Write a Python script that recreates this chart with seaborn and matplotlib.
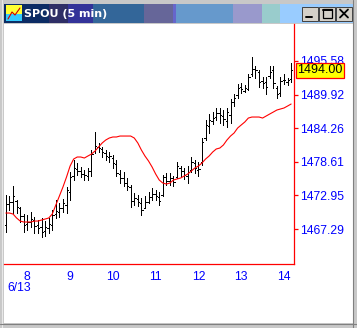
import matplotlib
matplotlib.use("Agg")
import matplotlib.pyplot as plt
import matplotlib.transforms as mtransforms
from matplotlib.patches import Rectangle
import numpy as np
import pandas as pd
import seaborn as sns

# ---------------- data ----------------
title = "SPOU (5 min)"
date_label = "6/13"
hour_ticks = [8, 9, 10, 11, 12, 13, 14]
price_ticks = [1467.29, 1472.95, 1478.61, 1484.26, 1489.92, 1495.58]
last_price = 1494.00

# bar start times (minutes after midnight): 7:30 .. 14:10, 5-minute bars
bar_minutes = list(range(450, 855, 5))

opens = [1468.0, 1471.5, 1471.9, 1472.0, 1470.8, 1469.5, 1468.2, 1468.4, 1468.8, 1467.9,
         1467.6, 1466.9, 1467.5, 1468.0, 1469.8, 1470.2, 1470.8, 1471.4, 1473.6, 1476.2,
         1477.4, 1477.1, 1476.6, 1476.2, 1477.0, 1480.5, 1481.1, 1480.8, 1480.1, 1479.4,
         1479.3, 1478.2, 1476.6, 1475.8, 1475.0, 1474.3, 1472.0, 1472.3, 1471.6, 1470.8,
         1471.9, 1472.7, 1473.2, 1472.6, 1473.0, 1476.1, 1475.3, 1475.8, 1476.0, 1477.6,
         1477.0, 1476.2, 1477.2, 1478.4, 1477.3, 1478.5, 1482.6, 1484.6, 1485.5, 1486.2,
         1486.9, 1486.3, 1485.5, 1486.5, 1488.7, 1489.8, 1491.2, 1490.6, 1490.9, 1493.4,
         1494.2, 1493.8, 1492.2, 1492.0, 1493.0, 1494.0, 1491.0, 1490.2, 1492.4, 1492.0,
         1492.6]
highs = [1473.01, 1472.90, 1474.53, 1472.17, 1470.99, 1469.81, 1469.64, 1470.15, 1469.31, 1468.80,
         1469.14, 1468.63, 1469.14, 1470.49, 1472.17, 1471.66, 1472.34, 1474.36, 1476.88, 1478.90,
         1478.40, 1477.73, 1477.22, 1477.56, 1480.59, 1483.62, 1481.77, 1481.09, 1480.59, 1480.25,
         1479.75, 1478.90, 1477.22, 1476.88, 1475.87, 1474.70, 1473.35, 1473.01, 1472.51, 1472.84,
         1473.52, 1474.19, 1473.85, 1473.52, 1476.38, 1476.72, 1476.72, 1476.21, 1478.57, 1477.89,
         1477.56, 1477.89, 1479.41, 1478.90, 1478.57, 1482.61, 1485.64, 1486.65, 1486.98, 1487.66,
         1487.66, 1487.32, 1487.66, 1489.17, 1490.02, 1491.70, 1491.87, 1491.53, 1493.38, 1496.24,
         1494.73, 1494.06, 1492.88, 1492.88, 1494.73, 1494.73, 1491.36, 1492.88, 1493.38, 1492.71,
         1495.23]
lows = [1466.78, 1470.49, 1469.98, 1469.98, 1468.47, 1466.78, 1467.12, 1467.62, 1466.61, 1466.61,
        1465.94, 1466.11, 1466.61, 1467.12, 1469.14, 1469.31, 1470.15, 1469.98, 1472.17, 1475.54,
        1476.38, 1476.04, 1475.54, 1475.54, 1476.21, 1480.08, 1480.25, 1479.41, 1478.90, 1478.57,
        1477.56, 1476.21, 1475.03, 1474.53, 1473.85, 1470.99, 1471.33, 1471.16, 1469.64, 1470.99,
        1471.66, 1472.17, 1472.17, 1471.33, 1472.84, 1474.70, 1474.70, 1474.53, 1475.87, 1476.21,
        1475.71, 1475.03, 1476.88, 1476.72, 1476.21, 1478.06, 1482.27, 1483.45, 1484.96, 1485.64,
        1485.13, 1484.80, 1484.46, 1485.13, 1487.99, 1489.34, 1490.18, 1490.35, 1490.69, 1493.05,
        1492.71, 1491.19, 1491.03, 1490.02, 1492.71, 1491.03, 1489.34, 1489.68, 1491.70, 1491.53,
        1492.04]
closes = [1471.5, 1471.9, 1472.8, 1471.0, 1469.5, 1468.0, 1468.5, 1468.9, 1467.8, 1467.5,
          1466.8, 1467.6, 1468.2, 1469.6, 1470.4, 1470.9, 1471.6, 1473.8, 1476.0, 1477.5,
          1477.0, 1476.6, 1476.3, 1477.0, 1480.0, 1481.2, 1481.0, 1480.2, 1479.6, 1479.5,
          1478.4, 1476.8, 1475.9, 1475.0, 1474.5, 1472.0, 1472.5, 1471.8, 1470.5, 1471.8,
          1472.6, 1473.2, 1472.8, 1472.0, 1476.0, 1475.4, 1475.9, 1475.2, 1477.9, 1477.0,
          1476.4, 1476.9, 1478.5, 1477.5, 1477.4, 1482.0, 1484.8, 1485.6, 1486.0, 1486.9,
          1486.5, 1485.8, 1487.0, 1488.6, 1489.4, 1491.0, 1490.8, 1491.0, 1492.9, 1494.2,
          1494.0, 1492.0, 1491.9, 1491.2, 1493.8, 1491.8, 1490.0, 1492.2, 1492.3, 1492.4,
          1494.0]
moving_avg = [1469.98, 1469.98, 1469.81, 1469.14, 1468.63, 1468.47, 1468.47, 1468.47, 1468.63, 1468.63,
              1468.80, 1468.97, 1469.14, 1469.81, 1471.33, 1472.84, 1474.36, 1476.04, 1477.89, 1479.07,
              1479.41, 1479.41, 1479.24, 1479.58, 1479.91, 1480.42, 1481.09, 1481.77, 1482.27, 1482.61,
              1482.78, 1482.78, 1482.94, 1482.94, 1482.94, 1482.94, 1482.61, 1481.77, 1480.59, 1479.58,
              1478.74, 1477.73, 1476.55, 1475.54, 1475.03, 1474.86, 1475.03, 1475.54, 1475.71, 1475.87,
              1476.21, 1476.55, 1477.05, 1477.56, 1477.89, 1478.40, 1479.07, 1479.58, 1480.25, 1480.76,
              1480.92, 1481.43, 1482.27, 1482.94, 1483.45, 1484.29, 1484.80, 1485.30, 1485.97, 1486.14,
              1486.14, 1486.14, 1485.97, 1486.31, 1486.65, 1486.98, 1487.32, 1487.49, 1487.66, 1487.99,
              1488.33]

# ---------------- figure ----------------
sns.set_style("white")
plt.rcParams["font.family"] = ["Liberation Sans", "DejaVu Sans"]

W, H = 357, 328
fig = plt.figure(figsize=(W / 100, H / 100), dpi=100)
fig.patch.set_facecolor("#c8c8c8")

# window chrome (pixel coordinates)
chrome = fig.add_axes([0, 0, 1, 1])
chrome.set_xlim(0, W)
chrome.set_ylim(H, 0)
chrome.axis("off")

# white client area
chrome.add_patch(Rectangle((4, 24), 349, 299, facecolor="white", edgecolor="none"))
# borders
chrome.plot([1.5, 1.5], [0, H], color="#e8e8e8", lw=0.8)
chrome.plot([0, W], [H - 4.5, H - 4.5], color="#808080", lw=0.8)
chrome.plot([W - 4.5, W - 4.5], [0, H], color="#808080", lw=0.8)

# title bar gradient blocks
segments = [(4, 49, "#0c2c64"), (49, 68, "#2e2e66"), (68, 93, "#333399"),
            (93, 144, "#336699"), (144, 173, "#666699"), (173, 176, "#6666cc"),
            (176, 233, "#6699cc"), (233, 262, "#9999cc"), (262, 280, "#99cccc"),
            (280, 353, "#99ccff")]
for x0, x1, c in segments:
    chrome.add_patch(Rectangle((x0, 4), x1 - x0, 19, facecolor=c, edgecolor="none"))
# icon
chrome.add_patch(Rectangle((6, 5), 16, 16, facecolor="#ffff33", edgecolor="none"))
chrome.add_patch(Rectangle((6, 14), 16, 7, facecolor="#33ccff", edgecolor="none"))
chrome.plot([8, 12, 15, 20], [19, 12, 15, 8], color="#cc0000", lw=0.8)
chrome.text(24, 13.8, title, color="white", fontsize=8, fontweight="bold",
            va="center", ha="left", family=["DejaVu Sans"])
# buttons
for bx in (302, 319, 336):
    chrome.add_patch(Rectangle((bx, 6.5), 16, 14, facecolor="#d4d0c8",
                               edgecolor="#404040", lw=0.7))
chrome.plot([306, 312], [17, 17], color="black", lw=1.4)
chrome.add_patch(Rectangle((322.5, 9), 9, 9, facecolor="none", edgecolor="black", lw=0.9))
chrome.plot([322.5, 331.5], [9.8, 9.8], color="black", lw=1.4)
chrome.plot([340, 348], [9.5, 17.5], color="black", lw=1.3)
chrome.plot([340, 348], [17.5, 9.5], color="black", lw=1.3)

# ---------------- price axes ----------------
ax = fig.add_axes([4 / W, (H - 264) / H, 290 / W, 240 / H])
ax.patch.set_alpha(0)

t = np.array(bar_minutes) / 60.0
df = pd.DataFrame({"t": t, "open": opens, "high": highs, "low": lows,
                   "close": closes, "ma": moving_avg})

tick_w = 0.03
ax.vlines(df["t"], df["low"], df["high"], color="black", lw=0.72, antialiased=False)
ax.hlines(df["open"], df["t"] - tick_w, df["t"], color="black", lw=0.72, antialiased=False)
ax.hlines(df["close"], df["t"], df["t"] + tick_w, color="black", lw=0.72, antialiased=False)
sns.lineplot(data=df, x="t", y="ma", color="#ff0000", lw=0.8, ax=ax, legend=False)

ax.set_xlim(7.4553, 14.2338)
ax.set_ylim(1461.40, 1501.80)
ax.set_xlabel("")
ax.set_ylabel("")

for side in ("left", "top"):
    ax.spines[side].set_visible(False)
for side in ("right", "bottom"):
    ax.spines[side].set_color("#ff0000")
    ax.spines[side].set_linewidth(0.9)

ax.yaxis.tick_right()
ax.set_yticks(price_ticks)
ax.set_yticklabels([f"{v:.2f}" for v in price_ticks])
ax.set_xticks(hour_ticks)
ax.set_xticklabels([str(h) for h in hour_ticks])
ax.tick_params(axis="both", colors="#ff0000", labelcolor="#0000ff", length=3,
               width=0.9, direction="out", labelsize=8.7)
ax.tick_params(axis="y", pad=1.5, left=False, right=True)
ax.tick_params(axis="x", pad=2)
ax.grid(False)

# date under first hour label
ax.text(0.01, -0.075, date_label, transform=ax.transAxes, color="#0000ff",
        fontsize=8.7, ha="left", va="top")

# last price box
trans = mtransforms.blended_transform_factory(ax.transAxes, ax.transData)
ax.text(1.0 + 3 / 290, last_price, f"{last_price:.2f}", transform=trans,
        ha="left", va="center", fontsize=9, color="black", zorder=10, clip_on=False,
        bbox=dict(boxstyle="square,pad=0.12", facecolor="#ffff00",
                  edgecolor="#ff0000", lw=0.9))

fig.savefig("out.png", dpi=100, facecolor=fig.get_facecolor())
